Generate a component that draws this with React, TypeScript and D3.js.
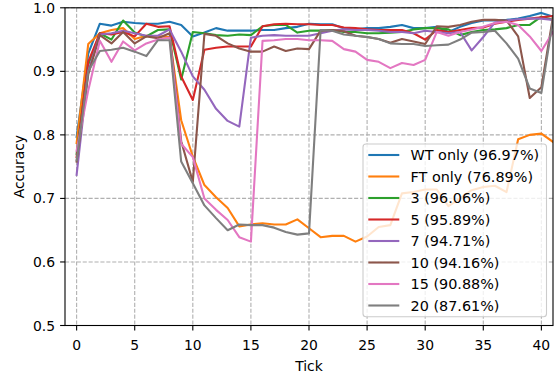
import React from "react";
import * as d3 from "d3";

const ticks: number[] = d3.range(0, 42);

const seriesNames = ["WT only (96.97%)", "FT only (76.89%)", "3 (96.06%)", "5 (95.89%)", "7 (94.71%)", "10 (94.16%)", "15 (90.88%)", "20 (87.61%)"];
const colors = ["#1f77b4", "#ff7f0e", "#2ca02c", "#d62728", "#9467bd", "#8c564b", "#e377c2", "#7f7f7f"];

const wtOnly = [0.797, 0.928, 0.975, 0.972, 0.978, 0.976, 0.975, 0.975, 0.978, 0.973, 0.955, 0.961, 0.968, 0.964, 0.964, 0.964, 0.965, 0.965, 0.968, 0.970, 0.975, 0.974, 0.974, 0.968, 0.966, 0.968, 0.968, 0.970, 0.973, 0.968, 0.968, 0.970, 0.962, 0.970, 0.976, 0.980, 0.980, 0.981, 0.983, 0.987, 0.992, 0.986];
const ftOnly = [0.787, 0.943, 0.960, 0.965, 0.968, 0.951, 0.956, 0.955, 0.954, 0.823, 0.766, 0.721, 0.702, 0.685, 0.656, 0.659, 0.661, 0.659, 0.659, 0.667, 0.653, 0.639, 0.641, 0.641, 0.632, 0.640, 0.655, 0.658, 0.708, 0.710, 0.714, 0.714, 0.688, 0.700, 0.713, 0.718, 0.720, 0.710, 0.793, 0.800, 0.802, 0.789];
const s3 = [0.770, 0.910, 0.960, 0.950, 0.980, 0.961, 0.955, 0.965, 0.966, 0.887, 0.962, 0.960, 0.957, 0.956, 0.958, 0.957, 0.971, 0.973, 0.973, 0.961, 0.964, 0.964, 0.965, 0.962, 0.962, 0.960, 0.960, 0.961, 0.962, 0.966, 0.968, 0.968, 0.966, 0.957, 0.962, 0.965, 0.966, 0.968, 0.973, 0.973, 0.986, 0.981];
const s5 = [0.765, 0.915, 0.960, 0.958, 0.962, 0.955, 0.975, 0.970, 0.971, 0.892, 0.855, 0.934, 0.937, 0.939, 0.939, 0.939, 0.971, 0.974, 0.975, 0.974, 0.974, 0.973, 0.973, 0.969, 0.968, 0.966, 0.965, 0.965, 0.965, 0.960, 0.950, 0.965, 0.962, 0.965, 0.968, 0.969, 0.975, 0.978, 0.981, 0.983, 0.985, 0.987];
const s7 = [0.737, 0.900, 0.958, 0.960, 0.964, 0.960, 0.956, 0.956, 0.966, 0.931, 0.892, 0.871, 0.841, 0.822, 0.813, 0.953, 0.956, 0.957, 0.956, 0.956, 0.956, 0.960, 0.964, 0.966, 0.965, 0.965, 0.964, 0.962, 0.962, 0.960, 0.964, 0.962, 0.960, 0.962, 0.933, 0.954, 0.977, 0.980, 0.982, 0.983, 0.983, 0.981];
const s10 = [0.758, 0.895, 0.957, 0.944, 0.962, 0.944, 0.955, 0.952, 0.960, 0.790, 0.726, 0.959, 0.956, 0.944, 0.936, 0.931, 0.931, 0.939, 0.932, 0.936, 0.935, 0.964, 0.965, 0.963, 0.956, 0.954, 0.951, 0.945, 0.951, 0.947, 0.943, 0.971, 0.970, 0.973, 0.978, 0.981, 0.981, 0.980, 0.955, 0.858, 0.875, 0.986];
const s15 = [0.775, 0.870, 0.948, 0.915, 0.947, 0.933, 0.944, 0.950, 0.953, 0.786, 0.765, 0.700, 0.682, 0.666, 0.639, 0.632, 0.948, 0.949, 0.951, 0.951, 0.949, 0.949, 0.948, 0.935, 0.931, 0.918, 0.915, 0.905, 0.913, 0.910, 0.918, 0.962, 0.956, 0.962, 0.966, 0.970, 0.976, 0.978, 0.973, 0.955, 0.932, 0.962];
const s20 = [0.760, 0.900, 0.932, 0.934, 0.937, 0.931, 0.924, 0.949, 0.949, 0.758, 0.724, 0.689, 0.669, 0.650, 0.659, 0.658, 0.658, 0.654, 0.647, 0.643, 0.645, 0.965, 0.964, 0.958, 0.956, 0.954, 0.951, 0.944, 0.943, 0.943, 0.940, 0.941, 0.942, 0.950, 0.961, 0.962, 0.964, 0.944, 0.920, 0.873, 0.866, 0.981];

const allSeries = [wtOnly, ftOnly, s3, s5, s7, s10, s15, s20];
const xTicks = [0, 5, 10, 15, 20, 25, 30, 35, 40];
const yTicks = [0.5, 0.6, 0.7, 0.8, 0.9, 1.0];

const W = 555, H = 372;
const L = 65, R = 553, T = 7.8, B = 325.5;
const font = "DejaVu Sans, sans-serif";

export default function App() {
  const x = d3.scaleLinear().domain([-1, 41]).range([L, R]);
  const y = d3.scaleLinear().domain([0.5, 1.0]).range([B, T]);
  const line = d3.line<number>().x((_, i) => x(ticks[i])).y((d) => y(d));

  const legX = 363, legY = 144, legW = 183.5, legH = 172.7;
  const rowY0 = 155, rowDy = 21.5;

  return (
    <svg width={W} height={H} style={{ position: "absolute", left: 0, top: 0 }} fontFamily={font}>
      <rect x={0} y={0} width={W} height={H} fill="#fff" />
      {xTicks.map((t) => (
        <line key={"gx" + t} x1={x(t)} x2={x(t)} y1={T} y2={B} stroke="#b0b0b0" strokeWidth={1.1} strokeDasharray="4.1,1.8" />
      ))}
      {yTicks.map((t) => (
        <line key={"gy" + t} x1={L} x2={R} y1={y(t)} y2={y(t)} stroke="#b0b0b0" strokeWidth={1.1} strokeDasharray="4.1,1.8" />
      ))}
      <defs>
        <clipPath id="clip">
          <rect x={L} y={T} width={R - L} height={B - T} />
        </clipPath>
      </defs>
      <g clipPath="url(#clip)">
        {allSeries.map((s, i) => (
          <path key={"s" + i} d={line(s) || ""} fill="none" stroke={colors[i]} strokeWidth={2.1} strokeLinejoin="round" strokeLinecap="square" />
        ))}
      </g>
      <rect x={L} y={T} width={R - L} height={B - T} fill="none" stroke="#000" strokeWidth={1.1} />
      {xTicks.map((t) => (
        <g key={"xt" + t}>
          <line x1={x(t)} x2={x(t)} y1={B} y2={B + 4.9} stroke="#000" strokeWidth={1.1} />
          <text x={x(t)} y={349.5} fontSize={13.9} textAnchor="middle" fill="#000">{t}</text>
        </g>
      ))}
      {yTicks.map((t) => (
        <g key={"yt" + t}>
          <line x1={L - 4.9} x2={L} y1={y(t)} y2={y(t)} stroke="#000" strokeWidth={1.1} />
          <text x={55} y={y(t)} dy="0.36em" fontSize={13.9} textAnchor="end" fill="#000">{t.toFixed(1)}</text>
        </g>
      ))}
      <text x={(L + R) / 2} y={370.5} fontSize={13.9} textAnchor="middle" fill="#000">Tick</text>
      <text transform={`translate(23.5, ${(T + B) / 2}) rotate(-90)`} fontSize={13.9} textAnchor="middle" fill="#000">Accuracy</text>
      <rect x={legX} y={legY} width={legW} height={legH} rx={3} ry={3} fill="#fff" fillOpacity={0.8} stroke="#cccccc" strokeWidth={1.1} />
      {seriesNames.map((n, i) => (
        <g key={"lg" + i}>
          <line x1={368.3} x2={399.3} y1={rowY0 + i * rowDy} y2={rowY0 + i * rowDy} stroke={colors[i]} strokeWidth={2.1} />
          <text x={410.5} y={rowY0 + i * rowDy} dy="0.36em" fontSize={14.4} fill="#000">{n}</text>
        </g>
      ))}
    </svg>
  );
}
